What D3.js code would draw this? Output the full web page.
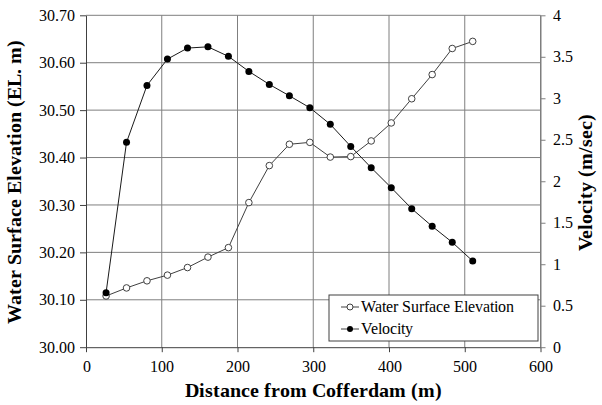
<!DOCTYPE html>
<html>
<head>
<meta charset="utf-8">
<script src="https://cdn.jsdelivr.net/npm/d3@7"></script>
<style>
@font-face { font-family: "ChartSerif"; font-weight: normal; src: local("Liberation Serif"), local("LiberationSerif"), local("Times New Roman"); }
@font-face { font-family: "ChartSerif"; font-weight: bold; src: local("Liberation Serif Bold"), local("LiberationSerif-Bold"), local("Times New Roman Bold"); }
</style>
</head>
<body style="margin:0">
<script>
let distance = [26.5, 53.5, 80.5, 107.5, 134, 161, 188, 215, 242, 268.5, 295.5, 322.5, 349.5, 376.5, 403, 430, 457, 483.5, 510.5];
let elevation = [30.108, 30.125, 30.140, 30.152, 30.168, 30.190, 30.210, 30.305, 30.383, 30.428, 30.432, 30.401, 30.402, 30.435, 30.473, 30.524, 30.575, 30.630, 30.645];
let velocity = [0.657, 2.469, 3.155, 3.472, 3.605, 3.620, 3.505, 3.324, 3.167, 3.030, 2.886, 2.686, 2.420, 2.163, 1.922, 1.669, 1.457, 1.264, 1.039];
let xTicks = [0, 100, 200, 300, 400, 500, 600];
let elevTicks = [30.0, 30.1, 30.2, 30.3, 30.4, 30.5, 30.6, 30.7];
let velTicks = [0, 0.5, 1, 1.5, 2, 2.5, 3, 3.5, 4];

let width = 602;
let height = 405;
let plotL = 86, plotR = 540.5, plotT = 15.3, plotB = 347.2;
let fontName = "ChartSerif, 'Liberation Serif', 'Times New Roman', Tinos, serif";

let svg = d3.select("body")
    .append("svg")
    .attr("width", width)
    .attr("height", height)
    .attr("font-family", fontName);

let scaleX = d3.scaleLinear().domain([0, 600]).range([plotL, plotR]);
let scaleY = d3.scaleLinear().domain([30.0, 30.7]).range([plotB, plotT]);
let scaleV = d3.scaleLinear().domain([0, 4]).range([plotB, plotT]);

// grid
svg.append("g").selectAll("line")
    .data(elevTicks.slice(1))
    .join("line")
    .attr("x1", plotL).attr("x2", plotR)
    .attr("y1", d => scaleY(d)).attr("y2", d => scaleY(d))
    .attr("stroke", "#7f7f7f").attr("stroke-width", 1);
svg.append("g").selectAll("line")
    .data(xTicks.slice(1))
    .join("line")
    .attr("x1", d => scaleX(d)).attr("x2", d => scaleX(d))
    .attr("y1", plotT).attr("y2", plotB)
    .attr("stroke", "#7f7f7f").attr("stroke-width", 1);

// axes
let axisX = d3.axisBottom(scaleX).tickValues(xTicks).tickSize(5).tickSizeOuter(0);
let axisY = d3.axisLeft(scaleY).tickValues(elevTicks).tickFormat(d3.format(".2f")).tickSize(6).tickSizeOuter(0);
let axisV = d3.axisRight(scaleV).tickValues(velTicks).tickFormat(d => d).tickSize(5).tickSizeOuter(0);

function styleAxis(g, col) {
    g.attr("font-family", fontName).attr("font-size", null);
    g.selectAll("path").attr("stroke", col);
    g.selectAll("line").attr("stroke", col);
    g.selectAll("text").attr("fill", "#000")
        .style("font-family", fontName)
        .style("font-size", "16px");
}

svg.append("g")
    .attr("transform", `translate(0, ${plotB})`)
    .call(axisX)
    .call(g => styleAxis(g, "#404040"))
    .call(g => g.selectAll("text").attr("dy", "1.05em"));
svg.append("g")
    .attr("transform", `translate(${plotL}, 0)`)
    .call(axisY)
    .call(g => styleAxis(g, "#404040"))
    .call(g => g.selectAll("text").attr("x", -11));
svg.append("g")
    .attr("transform", `translate(${plotR}, 0)`)
    .call(axisV)
    .call(g => styleAxis(g, "#7f7f7f"))
    .call(g => g.selectAll("text").attr("x", 12));

// lines and markers
let lineE = d3.line().x((d, i) => scaleX(distance[i])).y(d => scaleY(d));
let lineV = d3.line().x((d, i) => scaleX(distance[i])).y(d => scaleV(d));

svg.append("path").datum(elevation).attr("d", lineE)
    .attr("fill", "none").attr("stroke", "#404040").attr("stroke-width", 1);
svg.append("path").datum(velocity).attr("d", lineV)
    .attr("fill", "none").attr("stroke", "#1a1a1a").attr("stroke-width", 1);

svg.append("g").selectAll("circle")
    .data(elevation)
    .join("circle")
    .attr("cx", (d, i) => scaleX(distance[i]))
    .attr("cy", d => scaleY(d))
    .attr("r", 3.3)
    .attr("fill", "#fff").attr("stroke", "#404040").attr("stroke-width", 1);
svg.append("g").selectAll("circle")
    .data(velocity)
    .join("circle")
    .attr("cx", (d, i) => scaleX(distance[i]))
    .attr("cy", d => scaleV(d))
    .attr("r", 3.5)
    .attr("fill", "#000");

// axis titles
function axisTitle(sel) {
    return sel.attr("text-anchor", "middle")
        .style("font-family", fontName)
        .style("font-size", "20px")
        .style("font-weight", "bold");
}
svg.append("text")
    .attr("transform", `translate(21, ${(plotT + plotB) / 2 + 1}) rotate(-90)`)
    .call(axisTitle)
    .text("Water Surface Elevation (EL. m)");
svg.append("text")
    .attr("transform", `translate(592, ${(plotT + plotB) / 2 + 1}) rotate(-90)`)
    .call(axisTitle)
    .text("Velocity (m/sec)");
svg.append("text")
    .attr("x", (plotL + plotR) / 2).attr("y", 397)
    .call(axisTitle)
    .text("Distance from Cofferdam (m)");

// legend
let legend = svg.append("g").attr("transform", "translate(329, 295)");
legend.append("rect")
    .attr("width", 209).attr("height", 46)
    .attr("fill", "#fff").attr("stroke", "#404040");
let items = [
    { name: "Water Surface Elevation", fill: "#fff" },
    { name: "Velocity", fill: "#000" }
];
items.forEach((it, i) => {
    let y = 12 + i * 22;
    legend.append("line").attr("x1", 12).attr("x2", 30).attr("y1", y).attr("y2", y)
        .attr("stroke", "#404040");
    legend.append("circle").attr("cx", 21).attr("cy", y).attr("r", 3)
        .attr("fill", it.fill).attr("stroke", it.fill === "#fff" ? "#404040" : "none");
    legend.append("text").attr("x", 32).attr("y", y + 5)
        .style("font-family", fontName)
        .style("font-size", "16px")
        .text(it.name);
});
</script>
</body>
</html>
